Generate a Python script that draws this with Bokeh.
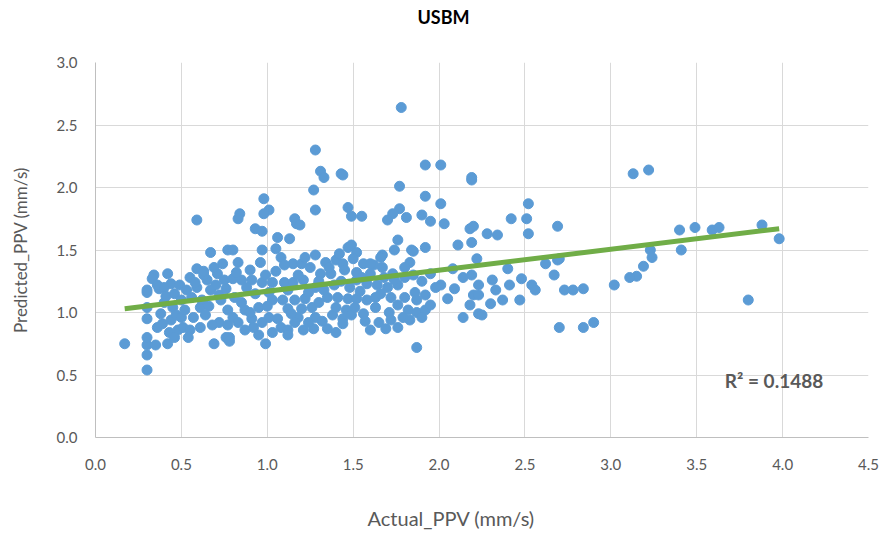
from bokeh.plotting import figure
from bokeh.models import Range1d, FixedTicker, Label, Title
from bokeh.embed import file_html
from bokeh.resources import INLINE

# Actual PPV (x) and predicted PPV (y) pairs
points = [
    (0.17,0.75),(0.30,0.54),(0.30,0.66),(0.30,0.74),(0.30,0.80),(0.35,0.74),(0.42,0.75),(0.30,0.95),
    (0.30,1.04),(0.30,1.16),(0.30,1.18),(0.34,1.30),(0.42,1.31),(0.37,1.19),(0.44,1.23),(0.49,1.22),
    (0.38,0.99),(0.36,0.88),(0.44,0.94),(0.40,1.08),(0.45,1.04),(0.48,0.86),(0.51,0.88),(0.55,0.86),
    (0.54,0.80),(0.61,0.88),(0.57,0.96),(0.55,1.28),(0.59,1.35),(0.56,1.12),(0.61,1.04),(0.59,1.20),
    (0.67,1.48),(0.65,1.26),(0.67,1.18),(0.71,1.31),(0.72,0.92),(0.69,0.75),(0.74,1.39),(0.77,1.50),
    (0.73,1.10),(0.77,1.02),(0.76,0.80),(0.77,0.90),(0.59,1.74),
    (0.33,1.27),(0.36,1.22),(0.40,1.20),(0.46,1.15),(0.50,1.10),(0.41,1.13),(0.47,0.98),(0.39,0.91),
    (0.43,0.84),(0.46,0.80),(0.50,0.96),(0.52,1.02),(0.53,1.18),(0.58,1.24),(0.62,1.10),(0.63,1.30),
    (0.64,0.98),(0.66,1.05),(0.68,0.90),(0.70,1.22),(0.72,1.14),(0.75,1.26),(0.63,1.33),(0.69,1.36),
    (0.93,1.67),(0.97,1.65),(1.06,1.60),(1.13,1.59),(0.80,1.50),(0.97,1.50),(1.05,1.51),(1.08,1.44),
    (0.83,1.40),(0.96,1.40),(1.15,1.39),(1.20,1.39),(1.47,1.52),(1.49,1.54),(1.34,1.40),(1.40,1.42),
    (1.44,1.39),(1.31,1.31),(1.37,1.31),(1.45,1.34),(0.80,1.27),(0.85,1.26),(0.91,1.26),(0.97,1.24),
    (1.03,1.24),(1.10,1.24),(1.15,1.24),(1.21,1.26),(1.28,1.20),(0.76,1.19),(1.01,1.16),(0.81,1.12),
    (1.03,1.10),(1.09,1.10),(1.16,1.10),(1.22,1.11),(1.35,1.12),(1.41,1.12),(1.47,1.11),(0.87,1.02),
    (0.95,1.04),(1.12,1.03),(1.20,1.03),(1.26,1.04),(0.80,0.96),(0.91,0.95),(1.01,0.96),(1.06,0.95),
    (1.18,0.96),(1.28,0.96),(1.38,0.98),(1.44,0.95),(0.83,0.92),(0.87,0.86),(0.97,0.92),(1.08,0.88),
    (1.12,0.86),(1.21,0.86),(1.27,0.87),(1.35,0.87),(1.44,0.91),(0.78,0.80),(0.95,0.82),(1.12,0.82),
    (0.78,0.77),(0.99,0.75),
    (1.28,2.30),(1.31,2.13),(1.33,2.08),(1.43,2.11),(1.44,2.10),(1.27,1.98),(0.98,1.91),(1.28,1.82),
    (1.47,1.84),(1.49,1.77),(1.55,1.77),(1.01,1.82),(0.98,1.79),(0.84,1.79),(0.83,1.75),(1.16,1.75),
    (1.17,1.71),(1.19,1.70),
    (0.88,1.20),(0.93,1.15),(0.99,1.30),(1.05,1.33),(1.12,1.18),(1.18,1.30),(1.24,1.16),(1.30,1.25),
    (1.33,1.18),(1.39,1.22),(1.43,1.25),(1.48,1.20),(1.25,1.36),(0.85,1.08),(0.90,1.00),(1.00,1.05),
    (1.14,0.99),(1.30,1.08),(1.40,1.04),(1.46,1.02),(1.32,0.93),(1.24,0.92),(1.16,0.92),(0.92,0.88),
    (1.03,0.84),(1.40,0.84),(1.49,0.98),(1.10,1.38),(1.22,1.44),(1.28,1.46),(0.90,1.34),(0.82,1.32),
    (1.36,1.36),(1.42,1.47),
    (1.78,2.64),(1.92,2.18),(2.01,2.18),(2.19,2.08),(2.19,2.06),(1.77,2.01),(1.92,1.93),(2.01,1.87),
    (1.77,1.83),(1.73,1.79),(1.70,1.74),(1.81,1.76),(1.90,1.78),(1.95,1.73),(2.03,1.71),(2.18,1.67),
    (2.20,1.69),(1.76,1.58),(1.84,1.50),(1.92,1.52),(1.74,1.50),(2.11,1.54),(2.19,1.56),(1.67,1.46),
    (1.83,1.40),(1.80,1.36),(1.52,1.48),(1.50,1.43),(1.56,1.39),(1.62,1.38),(1.67,1.36),(1.73,1.31),
    (1.52,1.32),(2.08,1.35),(2.14,1.28),(2.19,1.30),(2.23,1.22),(2.01,1.22),(2.09,1.19),(2.20,1.14),
    (2.18,1.06),(2.23,0.99),(2.14,0.96),(2.05,1.11),(1.52,1.26),(1.58,1.23),(1.64,1.22),(1.70,1.20),
    (1.76,1.22),(1.86,1.16),(1.92,1.14),(1.87,1.10),(1.52,1.11),(1.58,1.10),(1.63,1.12),(1.51,1.04),
    (1.56,0.99),(1.63,1.04),(1.76,1.06),(1.82,1.02),(1.87,1.00),(1.92,1.02),(1.79,0.96),(1.83,0.94),
    (1.60,0.86),(1.65,0.92),(1.69,0.87),(1.76,0.88),(1.87,0.72),
    (1.66,1.44),(1.60,1.39),(1.85,1.49),(1.55,1.28),(1.60,1.31),(1.68,1.28),(1.74,1.26),(1.80,1.28),
    (1.85,1.30),(1.90,1.25),(1.95,1.31),(1.98,1.20),(1.54,1.17),(1.66,1.15),(1.72,1.12),(1.80,1.12),
    (1.71,1.00),(1.95,1.06),(1.57,0.93),(1.72,0.94),(1.90,0.96),
    (2.28,1.63),(2.34,1.62),(2.52,1.63),(2.22,1.43),(2.40,1.35),(2.62,1.39),(2.69,1.42),(2.70,1.43),
    (2.67,1.30),(2.31,1.26),(2.48,1.27),(2.33,1.18),(2.41,1.22),(2.54,1.22),(2.56,1.18),(2.23,1.14),
    (2.30,1.07),(2.37,1.10),(2.47,1.10),(2.25,0.98),(2.73,1.18),(2.78,1.18),(2.84,1.19),(2.70,0.88),
    (2.84,0.88),(2.90,0.92),
    (2.52,1.87),(2.42,1.75),(2.51,1.75),(2.69,1.69),(3.13,2.11),(3.22,2.14),(3.23,1.50),(3.24,1.44),
    (3.19,1.37),(3.15,1.29),(3.11,1.28),(3.02,1.22),(3.40,1.66),(3.49,1.68),(3.59,1.66),(3.63,1.68),
    (3.88,1.70),(3.98,1.59),(3.41,1.50),(3.80,1.10),
]
actual_ppv = [p[0] for p in points]
predicted_ppv = [p[1] for p in points]

# Linear trend line (as shown on chart)
trend_slope = 0.168
trend_intercept = 1.002
trend_x = [0.17, 3.98]
trend_y = [trend_intercept + trend_slope * x for x in trend_x]
r2_text = "R\u00b2 = 0.1488"

x_ticks = [0.0, 0.5, 1.0, 1.5, 2.0, 2.5, 3.0, 3.5, 4.0, 4.5]
y_ticks = [0.0, 0.5, 1.0, 1.5, 2.0, 2.5, 3.0]

FONT = "Lato"
GRAY = "#595959"

p = figure(width=879, height=536, output_backend="svg", toolbar_location=None,
           x_range=Range1d(0, 4.5), y_range=Range1d(0, 3.0), title=None,
           min_border_left=95, min_border_right=11, min_border_top=62, min_border_bottom=99)
p.outline_line_color = None
p.background_fill_color = "white"
p.border_fill_color = "white"

# spacer between frame and chart title, then the title itself (further out)
p.add_layout(Title(text=" ", text_font_size="10px", standoff=20), "above")
p.add_layout(Title(text="USBM", align="left", offset=322, standoff=4,
                   text_font=FONT, text_font_size="18px", text_font_style="bold",
                   text_color="#000000"), "above")

for ax in (p.xaxis[0], p.yaxis[0]):
    ax.axis_line_color = "#bfbfbf"
    ax.major_tick_line_color = None
    ax.minor_tick_line_color = None
    ax.major_label_text_font = FONT
    ax.major_label_text_font_size = "15px"
    ax.major_label_text_color = GRAY
    ax.axis_label_text_font = FONT
    ax.axis_label_text_font_size = "17px"
    ax.axis_label_text_font_style = "normal"
    ax.axis_label_text_color = GRAY

p.xaxis.ticker = FixedTicker(ticks=x_ticks)
p.yaxis.ticker = FixedTicker(ticks=y_ticks)
p.xaxis.major_label_overrides = {t: f"{t:.1f}" for t in x_ticks}
p.yaxis.major_label_overrides = {t: f"{t:.1f}" for t in y_ticks}
p.yaxis.axis_label = "Predicted_PPV (mm/s)"
p.yaxis.major_label_standoff = 12
p.yaxis.axis_label_standoff = 23
p.xaxis.major_label_standoff = 15

# spacer below the x axis, then the x-axis title
p.add_layout(Title(text=" ", text_font_size="10px", standoff=13), "below")
p.add_layout(Title(text="Actual_PPV (mm/s)", align="left", offset=272, standoff=11,
                   text_font=FONT, text_font_size="20px", text_font_style="normal",
                   text_color=GRAY), "below")

p.xgrid.grid_line_color = "#d9d9d9"
p.ygrid.grid_line_color = "#d9d9d9"

p.scatter(actual_ppv, predicted_ppv, size=10, color="#5B9BD5", line_color="#5B9BD5")
p.line(trend_x, trend_y, line_color="#70AD47", line_width=5)

p.add_layout(Label(x=3.95, y=0.455, text=r2_text, text_align="center",
                   text_baseline="middle", text_font=FONT, text_font_size="19px",
                   text_font_style="bold", text_color=GRAY))

open("out.html", "w").write(file_html(p, INLINE))
